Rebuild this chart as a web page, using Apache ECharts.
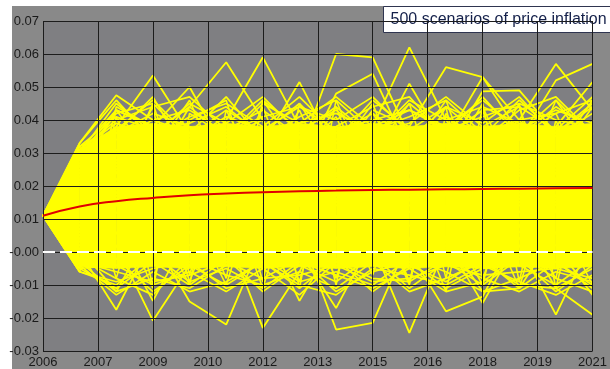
<!DOCTYPE html>
<html>
<head>
<meta charset="utf-8">
<script src="https://cdn.jsdelivr.net/npm/echarts@6/dist/echarts.min.js"></script>
<style>
  html, body { margin: 0; padding: 0; background: #fff; }
  #chart { width: 610px; height: 369px; }
</style>
</head>
<body>
<div id="chart"></div>
<script>
// Simulation years (one point per year)
const years = [2006, 2007, 2008, 2009, 2010, 2011, 2012, 2013, 2014, 2015, 2016, 2017, 2018, 2019, 2020, 2021];

// Mean inflation path across all scenarios
const meanPath = [0.011, 0.0138, 0.0154, 0.0164, 0.0172, 0.0177, 0.0181, 0.0184, 0.0186, 0.0188, 0.0189, 0.019, 0.0191, 0.0192, 0.0193, 0.0194];

// Envelope of the dense bulk of scenarios
const bulkLow  = [0.011, -0.0045, -0.005, -0.0045, -0.005, -0.0045, -0.005, -0.0045, -0.005, -0.0045, -0.005, -0.0045, -0.005, -0.0045, -0.005, -0.0045];
const bulkHigh = [0.011, 0.031, 0.038, 0.039, 0.038, 0.039, 0.038, 0.039, 0.038, 0.039, 0.038, 0.039, 0.038, 0.039, 0.038, 0.039];

// Scenarios reaching the upper extremes
const highPaths = [
  [0.011, 0.033, 0.0475, 0.040, 0.036, 0.022, 0.010, 0.030, 0.018, 0.025, 0.012, 0.020, 0.028, 0.015, 0.024, 0.019],
  [0.011, 0.028, 0.038, 0.0535, 0.036, 0.030, 0.015, 0.020, 0.024, 0.012, 0.027, 0.017, 0.022, 0.030, 0.014, 0.021],
  [0.011, 0.026, 0.036, 0.047, 0.028, 0.016, 0.024, 0.012, 0.026, 0.020, 0.030, 0.011, 0.019, 0.025, 0.017, 0.023],
  [0.011, 0.024, 0.043, 0.038, 0.050, 0.030, 0.022, 0.016, 0.028, 0.014, 0.021, 0.026, 0.010, 0.018, 0.029, 0.022],
  [0.011, 0.022, 0.030, 0.025, 0.044, 0.0575, 0.040, 0.020, 0.015, 0.027, 0.018, 0.022, 0.030, 0.012, 0.020, 0.016],
  [0.011, 0.027, 0.020, 0.030, 0.018, 0.040, 0.059, 0.038, 0.022, 0.016, 0.025, 0.030, 0.014, 0.020, 0.026, 0.018],
  [0.011, 0.025, 0.018, 0.022, 0.030, 0.026, 0.033, 0.0515, 0.030, 0.020, 0.012, 0.024, 0.019, 0.028, 0.015, 0.025],
  [0.011, 0.021, 0.028, 0.016, 0.024, 0.019, 0.027, 0.030, 0.060, 0.059, 0.035, 0.020, 0.026, 0.014, 0.022, 0.030],
  [0.011, 0.023, 0.015, 0.027, 0.020, 0.032, 0.018, 0.025, 0.048, 0.054, 0.030, 0.018, 0.023, 0.027, 0.016, 0.020],
  [0.011, 0.029, 0.024, 0.019, 0.026, 0.014, 0.028, 0.020, 0.033, 0.038, 0.062, 0.040, 0.025, 0.017, 0.028, 0.021],
  [0.011, 0.020, 0.026, 0.031, 0.016, 0.023, 0.030, 0.017, 0.026, 0.030, 0.051, 0.032, 0.018, 0.024, 0.020, 0.027],
  [0.011, 0.024, 0.019, 0.025, 0.031, 0.020, 0.016, 0.027, 0.021, 0.018, 0.038, 0.056, 0.053, 0.036, 0.022, 0.017],
  [0.011, 0.026, 0.031, 0.020, 0.022, 0.029, 0.024, 0.014, 0.030, 0.023, 0.020, 0.034, 0.053, 0.040, 0.026, 0.021],
  [0.011, 0.022, 0.027, 0.023, 0.019, 0.026, 0.031, 0.022, 0.017, 0.028, 0.024, 0.030, 0.0487, 0.049, 0.036, 0.024],
  [0.011, 0.028, 0.022, 0.029, 0.024, 0.018, 0.027, 0.031, 0.023, 0.019, 0.029, 0.022, 0.031, 0.040, 0.057, 0.043],
  [0.011, 0.025, 0.030, 0.017, 0.028, 0.024, 0.020, 0.026, 0.031, 0.022, 0.017, 0.027, 0.024, 0.034, 0.052, 0.057],
  [0.011, 0.023, 0.025, 0.032, 0.021, 0.027, 0.023, 0.019, 0.026, 0.031, 0.022, 0.018, 0.029, 0.021, 0.038, 0.0515]
];

// Scenarios reaching the lower extremes
const lowPaths = [
  [0.011, 0.000, -0.0175, 0.004, 0.018, 0.026, 0.015, 0.022, 0.030, 0.019, 0.024, 0.013, 0.027, 0.020, 0.017, 0.025],
  [0.011, 0.004, 0.002, -0.0208, -0.004, 0.012, 0.022, 0.018, 0.010, 0.026, 0.020, 0.028, 0.016, 0.023, 0.030, 0.019],
  [0.011, 0.002, 0.006, -0.0148, 0.006, 0.020, 0.028, 0.014, 0.021, 0.017, 0.029, 0.023, 0.020, 0.012, 0.024, 0.018],
  [0.011, 0.001, -0.012, 0.008, 0.016, 0.024, 0.018, 0.026, 0.014, 0.022, 0.030, 0.019, 0.025, 0.028, 0.021, 0.015],
  [0.011, 0.006, 0.012, 0.004, -0.015, -0.022, 0.004, 0.020, 0.026, 0.015, 0.021, 0.028, 0.018, 0.024, 0.016, 0.030],
  [0.011, 0.008, 0.016, 0.010, 0.002, 0.006, -0.023, -0.006, 0.016, 0.024, 0.018, 0.014, 0.027, 0.021, 0.025, 0.020],
  [0.011, 0.005, 0.018, 0.022, 0.012, 0.004, 0.008, -0.0148, 0.004, 0.020, 0.026, 0.017, 0.022, 0.016, 0.028, 0.023],
  [0.011, 0.007, 0.014, 0.020, 0.024, 0.012, 0.002, 0.006, -0.0235, -0.0215, 0.004, 0.022, 0.018, 0.027, 0.020, 0.016],
  [0.011, 0.003, 0.020, 0.016, 0.022, 0.018, 0.010, 0.000, -0.017, 0.004, 0.020, 0.027, 0.021, 0.015, 0.024, 0.029],
  [0.011, 0.009, 0.017, 0.024, 0.020, 0.015, 0.023, 0.014, 0.004, 0.002, -0.0245, 0.002, 0.020, 0.026, 0.017, 0.022],
  [0.011, 0.006, 0.022, 0.018, 0.014, 0.026, 0.019, 0.021, 0.011, 0.006, 0.000, -0.018, -0.0135, 0.008, 0.022, 0.025],
  [0.011, 0.004, 0.019, 0.025, 0.017, 0.021, 0.027, 0.016, 0.024, 0.013, 0.008, 0.003, -0.0155, 0.004, 0.019, 0.024],
  [0.011, 0.007, 0.015, 0.021, 0.026, 0.019, 0.016, 0.024, 0.020, 0.018, 0.022, 0.004, -0.012, -0.011, 0.006, 0.020],
  [0.011, 0.005, 0.021, 0.014, 0.023, 0.017, 0.025, 0.019, 0.015, 0.027, 0.016, 0.022, 0.010, 0.002, -0.019, 0.004],
  [0.011, 0.008, 0.016, 0.023, 0.019, 0.024, 0.014, 0.022, 0.027, 0.020, 0.018, 0.025, 0.016, 0.008, -0.011, -0.019],
  [0.011, 0.006, 0.024, 0.017, 0.021, 0.016, 0.023, 0.018, 0.022, 0.025, 0.014, 0.019, 0.024, 0.006, 0.002, -0.013]
];

// Scenarios that swing between both edges of the bulk
const edgePaths = [
  [0.011, 0.031, 0.043, 0.028, -0.009, 0.020, 0.044, 0.015, -0.008, 0.030, 0.045, 0.010, -0.010, 0.035, 0.042, 0.018],
  [0.011, -0.004, 0.020, 0.045, 0.012, -0.010, 0.025, 0.043, 0.018, -0.007, 0.030, 0.046, 0.015, -0.011, 0.028, 0.044],
  [0.011, 0.029, -0.008, 0.030, 0.046, 0.020, -0.011, 0.026, 0.044, 0.014, -0.009, 0.035, 0.043, 0.010, -0.008, 0.040],
  [0.011, -0.005, 0.041, 0.012, -0.010, 0.043, 0.022, -0.009, 0.030, 0.045, 0.016, -0.012, 0.038, 0.044, 0.012, -0.010],
  [0.011, 0.030, 0.015, -0.011, 0.040, 0.046, 0.010, 0.035, -0.010, 0.042, 0.025, 0.044, -0.008, 0.020, 0.046, 0.030],
  [0.011, -0.003, 0.044, 0.038, 0.020, -0.008, 0.046, 0.030, 0.041, 0.016, -0.010, 0.042, 0.026, 0.045, -0.011, 0.036],
  [0.011, 0.032, 0.024, 0.044, -0.007, 0.030, -0.009, 0.045, 0.028, 0.043, 0.038, -0.008, 0.044, 0.020, 0.030, 0.046],
  [0.011, -0.006, 0.030, -0.010, 0.042, 0.035, 0.040, -0.011, 0.046, 0.020, -0.009, 0.026, 0.045, -0.009, 0.040, 0.012]
];

// Scenarios hugging the upper rim of the bulk
const upperRimPaths = [
  [0.011, 0.030, 0.045, 0.036, 0.044, 0.035, 0.046, 0.037, 0.043, 0.034, 0.045, 0.036, 0.047, 0.035, 0.044, 0.037],
  [0.011, 0.032, 0.037, 0.046, 0.035, 0.043, 0.036, 0.045, 0.034, 0.046, 0.037, 0.044, 0.035, 0.046, 0.036, 0.045],
  [0.011, 0.029, 0.043, 0.038, 0.036, 0.047, 0.034, 0.041, 0.046, 0.036, 0.039, 0.047, 0.038, 0.036, 0.046, 0.035],
  [0.011, 0.031, 0.040, 0.044, 0.047, 0.037, 0.043, 0.035, 0.038, 0.044, 0.047, 0.035, 0.043, 0.044, 0.037, 0.047],
  [0.011, 0.033, 0.046, 0.034, 0.041, 0.045, 0.038, 0.047, 0.036, 0.042, 0.034, 0.044, 0.039, 0.047, 0.035, 0.042],
  [0.011, 0.030, 0.036, 0.042, 0.038, 0.034, 0.045, 0.039, 0.047, 0.038, 0.043, 0.038, 0.046, 0.037, 0.043, 0.039],
  [0.011, 0.028, 0.042, 0.045, 0.034, 0.041, 0.037, 0.044, 0.040, 0.047, 0.036, 0.041, 0.034, 0.043, 0.047, 0.036],
  [0.011, 0.031, 0.039, 0.035, 0.045, 0.039, 0.047, 0.036, 0.044, 0.035, 0.046, 0.040, 0.044, 0.039, 0.036, 0.044],
  [0.011, 0.029, 0.034, 0.040, 0.043, 0.036, 0.041, 0.044, 0.037, 0.040, 0.043, 0.037, 0.041, 0.045, 0.040, 0.038],
  [0.011, 0.032, 0.041, 0.037, 0.039, 0.044, 0.035, 0.039, 0.042, 0.037, 0.041, 0.046, 0.036, 0.040, 0.042, 0.046]
];

// Scenarios hugging the lower rim of the bulk
const lowerRimPaths = [
  [0.011, -0.005, -0.011, -0.003, -0.010, -0.002, -0.012, -0.004, -0.009, -0.001, -0.011, -0.003, -0.010, -0.002, -0.012, -0.004],
  [0.011, -0.004, -0.002, -0.012, -0.004, -0.010, -0.003, -0.011, -0.002, -0.012, -0.004, -0.009, -0.002, -0.011, -0.003, -0.010],
  [0.011, -0.006, -0.009, -0.005, -0.003, -0.011, -0.008, -0.002, -0.012, -0.006, -0.003, -0.011, -0.005, -0.004, -0.010, -0.002],
  [0.011, -0.003, -0.012, -0.008, -0.011, -0.004, -0.002, -0.009, -0.006, -0.010, -0.002, -0.006, -0.012, -0.008, -0.003, -0.011],
  [0.011, -0.005, -0.004, -0.010, -0.006, -0.012, -0.005, -0.013, -0.003, -0.008, -0.009, -0.002, -0.008, -0.012, -0.006, -0.009],
  [0.011, -0.002, -0.008, -0.013, -0.002, -0.007, -0.010, -0.006, -0.011, -0.003, -0.012, -0.008, -0.003, -0.010, -0.011, -0.005],
  [0.011, -0.006, -0.010, -0.001, -0.009, -0.005, -0.011, -0.003, -0.007, -0.011, -0.005, -0.012, -0.009, -0.001, -0.008, -0.012],
  [0.011, -0.004, -0.013, -0.006, -0.012, -0.009, -0.003, -0.010, -0.013, -0.005, -0.007, -0.010, -0.004, -0.009, -0.013, -0.007],
  [0.011, -0.003, -0.006, -0.009, -0.007, -0.003, -0.008, -0.007, -0.004, -0.009, -0.008, -0.004, -0.007, -0.006, -0.005, -0.008]
];

// Axis ranges
const yMin = -0.03, yMax = 0.07, yStep = 0.01;
const xMin = 2006, xMax = 2021, xStep = 1.5;

const titleText = '500 scenarios of price inflation';

const YELLOW = '#ffff00';
const pair = arr => arr.map((v, i) => [years[i], v]);

const series = [];

// Dense bulk: one filled quad per year-to-year segment
const bulkSegments = years.slice(0, -1).map((y, i) => [y, bulkLow[i], bulkHigh[i], years[i + 1], bulkLow[i + 1], bulkHigh[i + 1]]);
series.push({
  type: 'custom', silent: true, z: 2,
  data: bulkSegments,
  encode: { x: [0, 3], y: [1, 2, 4, 5] },
  renderItem: (params, api) => {
    const a = api.coord([api.value(0), api.value(2)]);
    const b = api.coord([api.value(3), api.value(5)]);
    const c = api.coord([api.value(3), api.value(4)]);
    const d = api.coord([api.value(0), api.value(1)]);
    return {
      type: 'polygon',
      shape: { points: [a, b, c, d] },
      style: { fill: YELLOW, stroke: YELLOW, lineWidth: 0.6 }
    };
  }
});

// Individual scenario paths
const addPaths = (paths, width) => paths.forEach(p => {
  series.push({
    type: 'line', data: pair(p), symbol: 'none', silent: true, z: 2,
    lineStyle: { color: YELLOW, width: width }
  });
});
addPaths(upperRimPaths, 1.7);
addPaths(lowerRimPaths, 1.7);
addPaths(edgePaths, 1.6);
addPaths(highPaths, 1.8);
addPaths(lowPaths, 1.8);

// Zero line (dashed white over the dark gridline)
series.push({
  type: 'line', data: [[xMin, 0], [xMax, 0]], symbol: 'none', silent: true, z: 5,
  lineStyle: { color: '#ffffff', width: 2, type: [12, 5] }
});

// Mean path
series.push({
  type: 'line', data: pair(meanPath), symbol: 'none', smooth: true, silent: true, z: 6,
  lineStyle: { color: '#e00000', width: 2 }
});

const chart = echarts.init(document.getElementById('chart'), null, { renderer: 'canvas' });
chart.setOption({
  animation: false,
  backgroundColor: '#ffffff',
  graphic: [
    { type: 'rect', left: 12, top: 6, shape: { width: 598, height: 363 }, style: { fill: '#898989' }, z: -10, silent: true },
    {
      type: 'group', left: 383, top: 6, z: 100,
      children: [
        { type: 'rect', shape: { x: 0, y: 0, width: 240, height: 26 }, style: { fill: '#ffffff', stroke: '#2f3550', lineWidth: 1 } },
        { type: 'text', x: 7, y: 13, style: { text: titleText, fill: '#14204a', font: '16px "Liberation Sans", Arial, sans-serif', verticalAlign: 'middle' } }
      ]
    }
  ],
  grid: {
    left: 43, right: 11, top: 21, bottom: 15,
    show: true, backgroundColor: '#7f7f82', borderWidth: 0
  },
  xAxis: {
    type: 'value', min: xMin, max: xMax, interval: xStep, z: 4,
    axisLine: { show: false }, axisTick: { show: false },
    splitLine: { show: true, lineStyle: { color: '#1c1c1c', width: 1 } },
    axisLabel: {
      formatter: v => String(Math.floor(v)), margin: 5,
      color: '#1a1a1a', fontSize: 13, fontFamily: '"Liberation Sans", Arial, sans-serif',
      showMaxLabel: true, showMinLabel: true, hideOverlap: false
    }
  },
  yAxis: {
    type: 'value', min: yMin, max: yMax, interval: yStep, z: 4,
    axisLine: { show: false }, axisTick: { show: false },
    splitLine: { show: true, lineStyle: { color: '#1c1c1c', width: 1 } },
    axisLabel: {
      formatter: v => (Math.abs(v) < 1e-9 ? '-0.00' : v.toFixed(2)), margin: 4,
      color: '#1a1a1a', fontSize: 13, fontFamily: '"Liberation Sans", Arial, sans-serif'
    }
  },
  series: series
});
</script>
</body>
</html>
